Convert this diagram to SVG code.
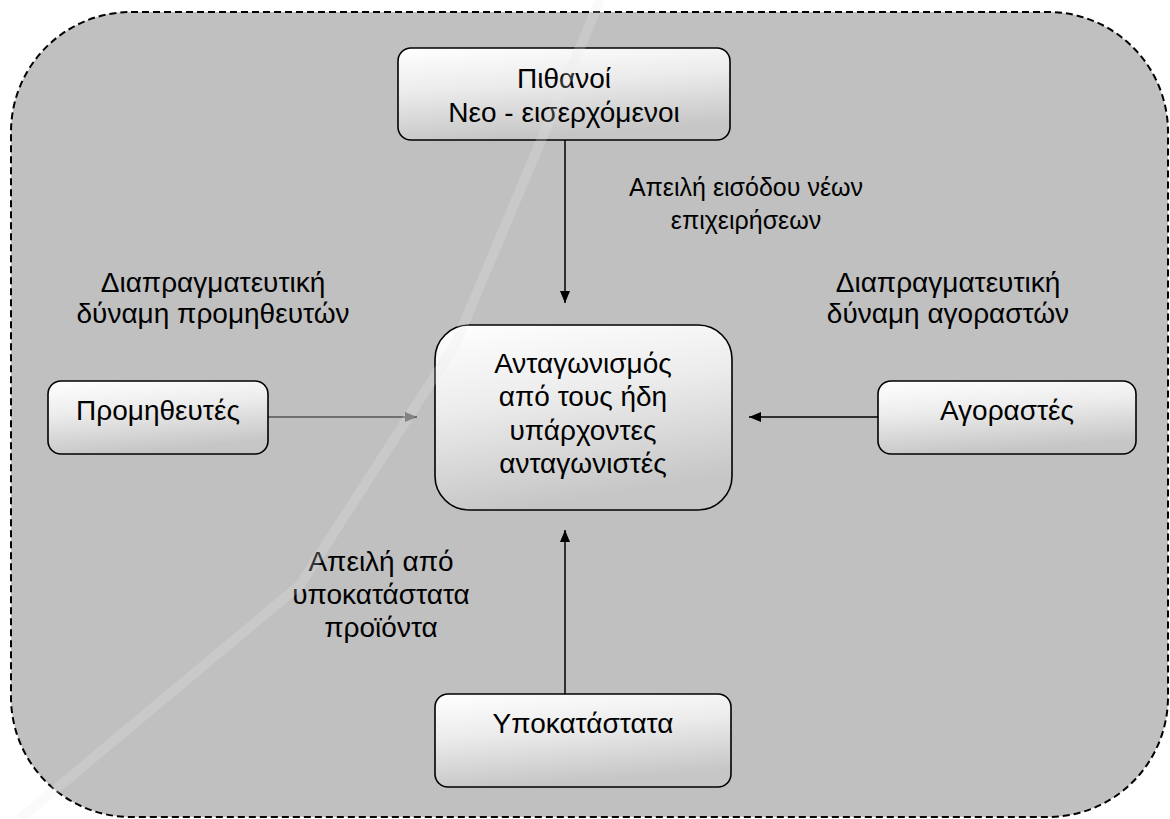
<svg xmlns="http://www.w3.org/2000/svg" width="1170" height="819" viewBox="0 0 1170 819">
  <style>
    .frame { fill: #c0c0c0; stroke: #000; stroke-width: 2; stroke-dasharray: 7 4; }
    .box { fill: url(#boxFill); stroke: #000; stroke-width: 1.6; }
    .lbl { font-family: "Liberation Sans", Arial, sans-serif; font-size: 28px; fill: #000; text-anchor: middle; }
    .lbl.sm { font-size: 25px; }
    .edge { stroke: #000; stroke-width: 1.5; fill: none; }
  </style>
  <defs>
    <linearGradient id="boxFill" x1="0" y1="0" x2="0.25" y2="1">
      <stop offset="0" stop-color="#ffffff"/>
      <stop offset="0.45" stop-color="#ececec"/>
      <stop offset="1" stop-color="#c6c6c6"/>
    </linearGradient>
    <marker id="head" viewBox="0 0 12 10" refX="12" refY="5" markerWidth="12" markerHeight="10" markerUnits="userSpaceOnUse" orient="auto">
      <path d="M0,0 L12,5 L0,10 z" fill="#000"/>
    </marker>
    <marker id="headGrey" viewBox="0 0 12 10" refX="12" refY="5" markerWidth="12" markerHeight="10" markerUnits="userSpaceOnUse" orient="auto">
      <path d="M0,0 L12,5 L0,10 z" fill="#666"/>
    </marker>
  </defs>

  <!-- industry boundary -->
  <rect class="frame" x="11" y="12" width="1157" height="805" rx="120" ry="120"/>

  <!-- forces: labels on the arrows -->
  <g id="labels">
    <text class="lbl sm" x="746" y="196">Απειλή εισόδου νέων</text>
    <text class="lbl sm" x="746" y="229">επιχειρήσεων</text>
    <text class="lbl" x="213" y="292">Διαπραγματευτική</text>
    <text class="lbl" x="213" y="323">δύναμη προμηθευτών</text>
    <text class="lbl" x="948" y="292">Διαπραγματευτική</text>
    <text class="lbl" x="948" y="323">δύναμη αγοραστών</text>
    <text class="lbl" x="381" y="571">Απειλή από</text>
    <text class="lbl" x="381" y="604">υποκατάστατα</text>
    <text class="lbl" x="381" y="637">προϊόντα</text>
  </g>

  <g id="connectors">
    <line class="edge" x1="565" y1="140" x2="565" y2="303" marker-end="url(#head)"/>
    <line class="edge" x1="565" y1="694" x2="565" y2="530" marker-end="url(#head)"/>
    <line class="edge" x1="268" y1="417" x2="417" y2="417" style="stroke:#555" marker-end="url(#headGrey)"/>
    <line class="edge" x1="878" y1="417" x2="749" y2="417" marker-end="url(#head)"/>
  </g>

  <g id="new-entrants">
    <rect class="box" x="398" y="48" width="332" height="92" rx="13"/>
    <text class="lbl" x="564" y="88">Πιθανοί</text>
    <text class="lbl" x="564" y="122">Νεο - εισερχόμενοι</text>
  </g>

  <g id="rivalry">
    <rect class="box" x="435" y="325" width="297" height="185" rx="34"/>
    <text class="lbl" x="583" y="373">Ανταγωνισμός</text>
    <text class="lbl" x="583" y="406">από τους ήδη</text>
    <text class="lbl" x="583" y="440">υπάρχοντες</text>
    <text class="lbl" x="583" y="473">ανταγωνιστές</text>
  </g>

  <g id="suppliers">
    <rect class="box" x="48" y="381" width="220" height="73" rx="13"/>
    <text class="lbl" x="158" y="420">Προμηθευτές</text>
  </g>

  <g id="buyers">
    <rect class="box" x="878" y="381" width="258" height="73" rx="13"/>
    <text class="lbl" x="1007" y="420">Αγοραστές</text>
  </g>

  <g id="substitutes">
    <rect class="box" x="435" y="694" width="296" height="93" rx="13"/>
    <text class="lbl" x="583" y="733">Υποκατάστατα</text>
  </g>

  <!-- faint diagonal watermark stroke -->
  <path d="M600,0 L455,345 L300,585 L20,819" fill="none" stroke="#e6e6e6" stroke-opacity="0.22" stroke-width="10"/>
</svg>
